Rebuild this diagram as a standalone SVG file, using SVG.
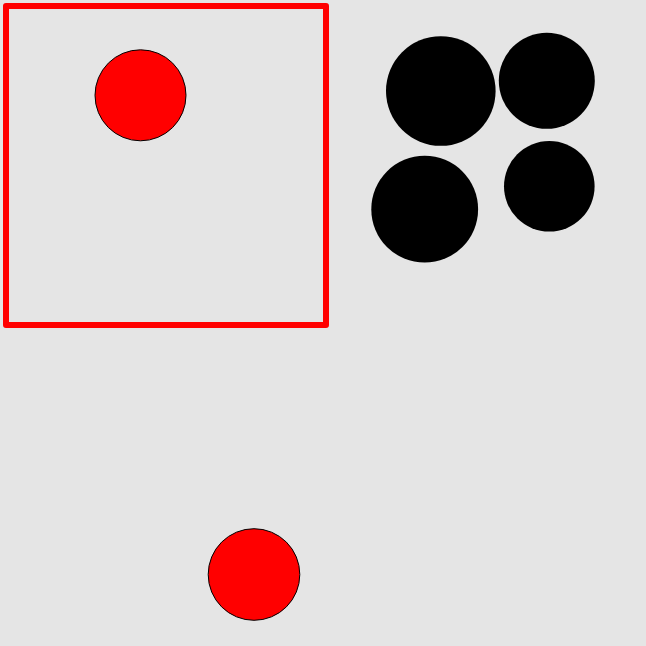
<svg xmlns="http://www.w3.org/2000/svg" width="646" height="646" viewBox="0 0 646 646">
<style>
.red{fill:#ff0000;stroke:#000;stroke-width:1}
.blk{fill:#000}
</style>
<rect x="0" y="0" width="646" height="646" fill="#e5e5e5"/>
<rect x="6" y="6" width="320" height="319" fill="none" stroke="#ff0000" stroke-width="6" stroke-linejoin="round"/>
<circle class="red" cx="140.5" cy="95.3" r="45.5"/>
<circle class="blk" cx="440.8" cy="91" r="54.8"/>
<circle class="blk" cx="546.8" cy="80.8" r="48"/>
<circle class="blk" cx="424.7" cy="209.2" r="53.4"/>
<circle class="blk" cx="549.3" cy="186.3" r="45.3"/>
<circle class="red" cx="254" cy="574.5" r="45.8"/>
</svg>
